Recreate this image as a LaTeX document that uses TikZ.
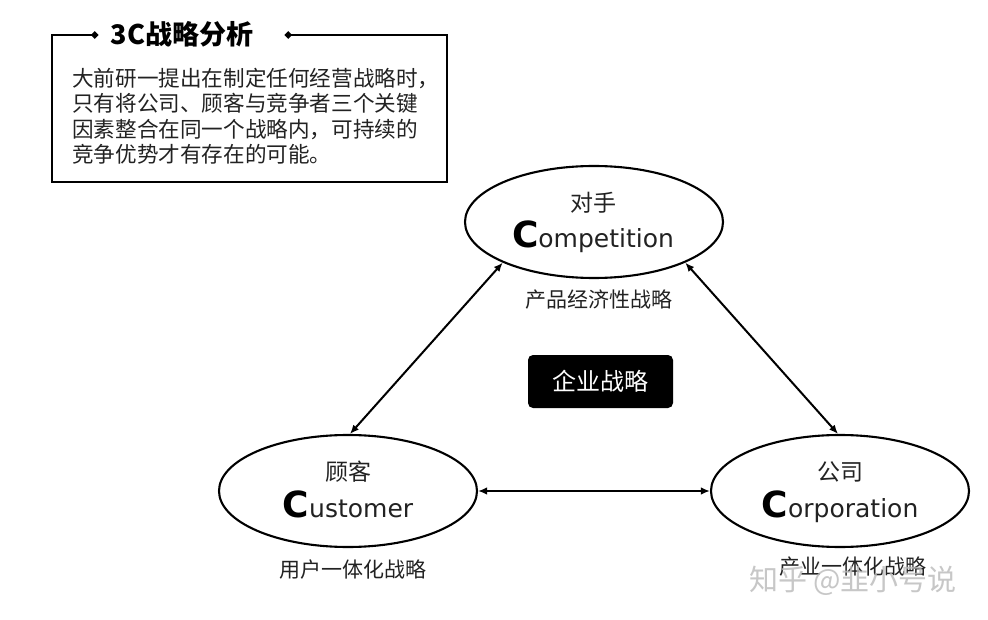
\documentclass[tikz,border=0pt]{standalone}
\usepackage{fontspec}
\setmainfont{DejaVu Sans}
\newfontfamily\cjk{Noto Sans CJK SC}
\usetikzlibrary{arrows.meta,shapes.geometric}
\definecolor{txt}{RGB}{34,34,34}
\begin{document}
\begin{tikzpicture}[x=1pt,y=-1pt,
  ell/.style={draw, line width=2.1pt, ellipse, minimum width=258pt, minimum height=112pt, inner sep=0pt},
  cn/.style={font=\cjk\fontsize{23}{23}\selectfont, text=txt, inner sep=0pt},
  en/.style={font=\fontsize{25}{25}\selectfont, text=txt, inner sep=0pt, anchor=base},
  lab/.style={font=\cjk\fontsize{21}{21}\selectfont, text=txt, inner sep=0pt},
  link/.style={line width=2pt, {Latex[length=9pt,width=7.5pt]}-{Latex[length=9pt,width=7.5pt]}},
  frame/.style={line width=2.8pt, {Circle[length=6.5pt]}-{Circle[length=6.5pt]}},
]
\useasboundingbox (0,0) rectangle (988,620);
\fill[white] (0,0) rectangle (988,620);

% top-left frame
\coordinate (fl) at (98,35);
\coordinate (fr) at (285,35);
\coordinate (c1) at (52,35);
\coordinate (c2) at (52,182);
\coordinate (c3) at (447,182);
\coordinate (c4) at (447,35);
\draw[frame] (fl) -- (c1) -- (c2) -- (c3) -- (c4) -- (fr);
\node[font=\cjk\bfseries\fontsize{27}{27}\selectfont, text=black, inner sep=0pt] (title) at (182,34) {3C战略分析};
\node[anchor=north west, inner sep=0pt, align=left, text=txt,
      font=\cjk\fontsize{21.6}{25.3}\selectfont] (body) at (72,68)
  {大前研一提出在制定任何经营战略时，\\只有将公司、顾客与竞争者三个关键\\因素整合在同一个战略内，可持续的\\竞争优势才有存在的可能。};

% ellipses
\node[ell] (comp) at (594,222) {};
\node[ell] (cust) at (348,491) {};
\node[ell] (corp) at (840,491) {};

\node[cn] (compcn) at (593,203) {对手};
\node[en] (compen) at (593,248) {{\fontsize{36}{36}\selectfont\bfseries\color{black}C}ompetition};
\node[cn] (custcn) at (348,472) {顾客};
\node[en] (custen) at (348,517) {{\fontsize{36}{36}\selectfont\bfseries\color{black}C}ustomer};
\node[cn] (corpcn) at (840,472) {公司};
\node[en] (corpen) at (840,517) {{\fontsize{36}{36}\selectfont\bfseries\color{black}C}orporation};

% strategy labels
\node[lab] (l1) at (599,300) {产品经济性战略};
\node[lab] (l2) at (353,570) {用户一体化战略};
\node[lab] (l3) at (853,567) {产业一体化战略};

% center box
\node[fill=black, rounded corners=5pt, minimum width=145pt, minimum height=53pt, inner sep=0pt,
      text=white, font=\cjk\fontsize{24}{24}\selectfont] (core) at (600.5,381.5) {企业战略};

% connectors
\draw[link] (cust.88) -- (comp.204);
\draw[link] (cust.east) -- (corp.west);
\draw[link] (corp.92) -- (comp.336);

% watermark
\node[font=\cjk\fontsize{29}{29}\selectfont, text=gray!55, opacity=0.8, inner sep=0pt] (wm) at (853,581) {知乎 @韭小号说};
\end{tikzpicture}
\end{document}
